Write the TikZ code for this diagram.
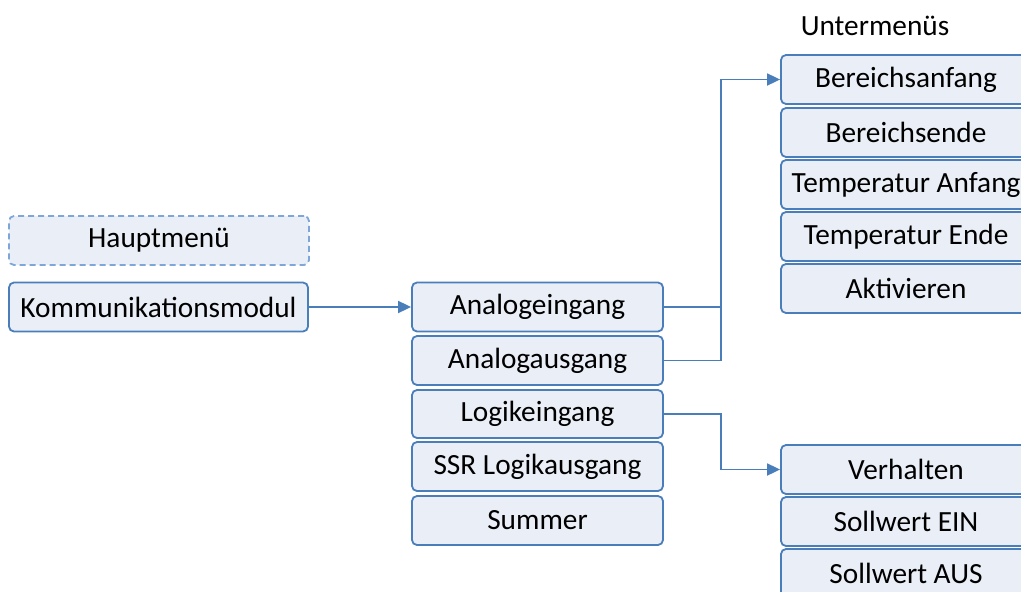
\documentclass[tikz,border=0pt]{standalone}
\usepackage{fontspec}
\setmainfont{Carlito}
\usetikzlibrary{arrows.meta}
\definecolor{bordc}{HTML}{4A7EBB}
\definecolor{fillc}{HTML}{EAEFF7}
\definecolor{dashc}{HTML}{7FA6D8}
\begin{document}
\begin{tikzpicture}[x=1pt,y=-1pt,
  box/.style={draw=bordc,fill=fillc,line width=1.8pt,rounded corners=5pt,inner sep=0pt,
    font=\fontsize{29.3}{32}\selectfont},
  conn/.style={draw=bordc,line width=1.8pt,-{Triangle[length=13pt,width=12pt]}},
  plain/.style={draw=bordc,line width=1.8pt}]
\useasboundingbox (0,0) rectangle (1021,592);
\clip (0,0) rectangle (1021,592);
% left
\node[box,dashed,draw=dashc,dash pattern=on 6pt off 4pt,minimum width=300pt,minimum height=49pt] (haupt) at (159,240.5) {Hauptmenü};
\node[box,minimum width=299pt,minimum height=49pt] (komm) at (158.5,307) {Kommunikationsmodul};
% middle column
\node[box,minimum width=251pt,minimum height=49pt] (ae) at (537.5,307) {Analogeingang};
\node[box,minimum width=251pt,minimum height=49pt] (aa) at (537.5,360.5) {Analogausgang};
\node[box,minimum width=251pt,minimum height=48pt] (le) at (537.5,414) {Logikeingang};
\node[box,minimum width=251pt,minimum height=49pt] (ssr) at (537.5,466.5) {SSR Logikausgang};
\node[box,minimum width=251pt,minimum height=49pt] (sum) at (537.5,520.5) {Summer};
% right column
\node[font=\fontsize{29.3}{32}\selectfont] (unter) at (875,26) {Untermenüs};
\node[box,minimum width=250pt,minimum height=49pt] (ba) at (906,79.5) {Bereichsanfang};
\node[box,minimum width=250pt,minimum height=49pt] (be) at (906,132.5) {Bereichsende};
\node[box,minimum width=250pt,minimum height=49pt] (ta) at (906,184.5) {Temperatur Anfang};
\node[box,minimum width=250pt,minimum height=49pt] (te) at (906,236.5) {Temperatur Ende};
\node[box,minimum width=250pt,minimum height=49pt] (ak) at (906,288.5) {Aktivieren};
\node[box,minimum width=250pt,minimum height=49pt] (vh) at (906,469.5) {Verhalten};
\node[box,minimum width=250pt,minimum height=49pt] (se) at (906,521.5) {Sollwert EIN};
\node[box,minimum width=250pt,minimum height=49pt] (sa) at (906,573.5) {Sollwert AUS};
% connectors
\coordinate (j1) at (721,307);
\draw[conn] (komm.east) -- (ae.west);
\draw[conn] (ae.east) -- (j1) |- (ba.west);
\draw[plain] (aa.east) -| (j1);
\draw[conn] (le.east) -| (721,440) |- (vh.west);
\end{tikzpicture}
\end{document}
